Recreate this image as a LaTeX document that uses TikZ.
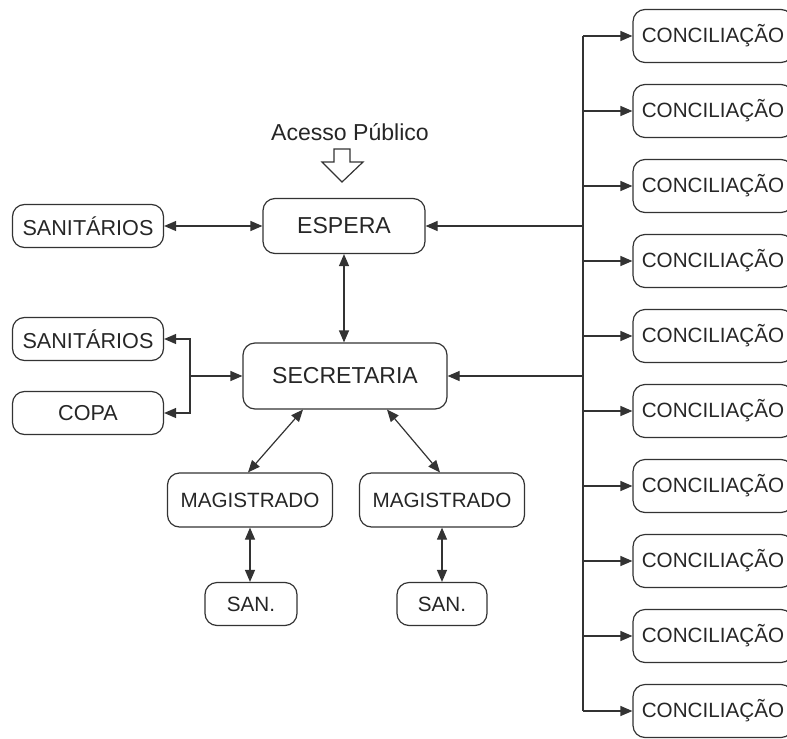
\documentclass[tikz,border=0pt]{standalone}
\usepackage{fontspec}
\setmainfont{Liberation Sans}
\usetikzlibrary{arrows.meta,calc}
\tikzset{
  box/.style={draw=black!80, line width=0.9pt, rounded corners=9pt, align=center, text=black!85, inner sep=0pt, font=\fontsize{15.5}{18}\selectfont},
  bigbox/.style={box, font=\fontsize{17.3}{20}\selectfont},
  conn/.style={draw=black!80, line width=0.9pt, -{Triangle[length=9pt,width=7.5pt]}},
  both/.style={draw=black!80, line width=0.9pt, {Triangle[length=9pt,width=7.5pt]}-{Triangle[length=9pt,width=7.5pt]}},
  plain/.style={draw=black!80, line width=0.9pt}
}
\begin{document}
\begin{tikzpicture}[x=0.75pt,y=-0.75pt]
\useasboundingbox (0,0) rectangle (787,738);
% main boxes
\node[bigbox, minimum width=121.5pt, minimum height=41.25pt] (esp) at (344,226) {ESPERA};
\node[bigbox, minimum width=153pt, minimum height=49.5pt] (sec) at (345,376) {SECRETARIA};
\node[box, font=\fontsize{16.2}{19}\selectfont, minimum width=113.25pt, minimum height=32.25pt] (san1) at (88,226) {SANITÁRIOS};
\node[box, font=\fontsize{16.2}{19}\selectfont, minimum width=113.25pt, minimum height=32.25pt] (san2) at (88,339) {SANITÁRIOS};
\node[box, font=\fontsize{16.2}{19}\selectfont, minimum width=113.25pt, minimum height=32.25pt] (copa) at (88,413) {COPA};
\node[box, minimum width=123.75pt, minimum height=40.5pt] (mag1) at (250,500) {MAGISTRADO};
\node[box, minimum width=123.75pt, minimum height=40.5pt] (mag2) at (442,500) {MAGISTRADO};
\node[box, minimum width=69pt, minimum height=32.25pt] (sanA) at (251,604) {SAN.};
\node[box, minimum width=67.5pt, minimum height=32.25pt] (sanB) at (442,604) {SAN.};
% access
\node[text=black!85, font=\fontsize{17.3}{20}\selectfont] (acc) at (350,132) {Acesso Público};
\draw[plain, fill=white] (334,149) -- (350,149) -- (350,162) -- (363,162) -- (342,182) -- (322,162) -- (334,162) -- cycle;
% conciliacao boxes
\foreach \i in {0,...,9}{
  \node[box, minimum width=120pt, minimum height=39.75pt] (c\i) at (713,36+75*\i) {CONCILIAÇÃO};
}
% bus
\coordinate (bt) at (583,36);
\coordinate (bb) at (583,711);
\draw[plain] (bt) -- (bb);
\foreach \i in {0,...,9}{
  \draw[conn] (bt |- c\i.west) -- (c\i.west);
}
\draw[conn] (bt |- esp.east) -- (esp.east);
\draw[conn] (bt |- sec.east) -- (sec.east);
% left
\draw[both] (san1.east) -- (esp.west);
\draw[both] (esp.south) -- (esp.south |- sec.north);
\coordinate (br) at (190,376);
\draw[conn] (br) -- (sec.west);
\draw[conn] (br) |- (san2.east);
\draw[conn] (br) |- (copa.east);
% magistrados
\draw[both] ($(sec.south)+(-42,0)$) -- ($(mag1.north)+(-2,0)$);
\draw[both] ($(sec.south)+(42,0)$) -- ($(mag2.north)+(-2,0)$);
\draw[both] (mag1.south) -- (mag1.south |- sanA.north);
\draw[both] (mag2.south) -- (mag2.south |- sanB.north);
\end{tikzpicture}
\end{document}
